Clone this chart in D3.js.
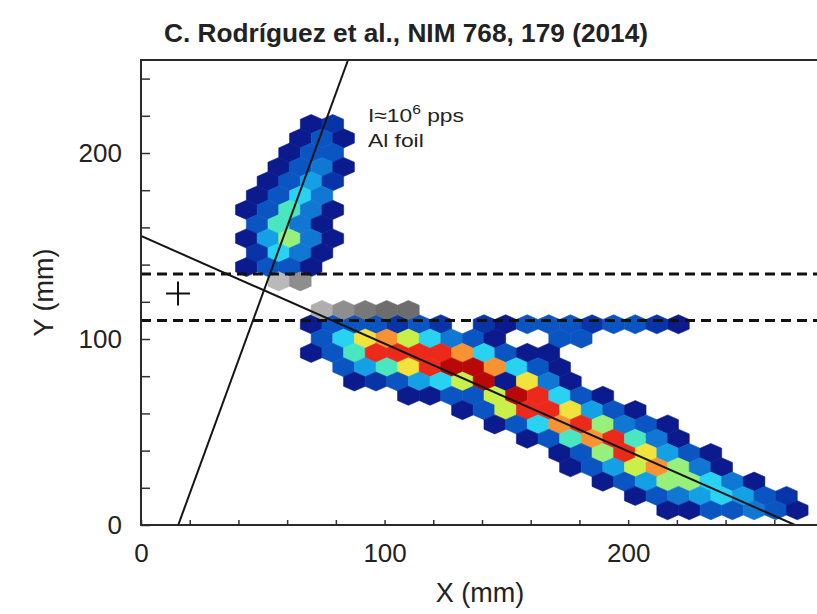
<!DOCTYPE html>
<html>
<head>
<meta charset="utf-8">
<script src="https://cdn.jsdelivr.net/npm/d3@7"></script>
<style>
  body { margin: 0; background: #fff; }
  text { font-family: "Liberation Sans", Arial, Helvetica, sans-serif; fill: #222; }
</style>
</head>
<body>
<svg id="chart" width="817" height="614"></svg>
<script>
// ---- hexbin histogram of reconstructed hit positions ----
// each bin row: row index counted from the bottom row, first column, counts
const binRow = [27, 26, 25, 24, 23, 22, 21, 20, 19, 18, 17,
                13, 12, 11, 10, 9, 8, 7, 6, 5, 4, 3, 2, 1, 0];
const binFirstCol = [-1, -1, -2, -2, -3, -3, -4, -3, -4, -3, -4,
                     -1, 0, -1, 1, 1, 4, 6, 8, 9, 11, 11, 13, 14, 16];
const binCounts = [
  [1, 2],
  [1, 3, 1],
  [1, 3, 3],
  [1, 3, 4, 1],
  [1, 3, 5, 2],
  [1, 3, 6, 4],
  [1, 3, 7, 4, 1],
  [3, 7, 4, 1],
  [1, 5, 8, 4, 1],
  [2, 6, 4, 1],
  [1, 3, 3, 1],
  [1, 3, 3, 3, 2, 3, 2, 0, 2, 1, 3, 3, 3, 2, 3, 3, 2, 1],
  [3, 6, 10, 11, 9, 6, 4, 3, 1, 0, 0, 3, 3],
  [1, 3, 7, 12, 12, 12, 12, 11, 6, 3, 1, 1],
  [3, 5, 7, 10, 12, 13, 13, 11, 6, 3, 1],
  [1, 2, 3, 5, 6, 9, 13, 1, 10, 4, 1],
  [1, 1, 3, 3, 9, 13, 12, 6, 3, 1],
  [1, 3, 9, 12, 12, 10, 5, 3, 1],
  [1, 3, 6, 11, 12, 8, 4, 3, 1],
  [1, 3, 7, 11, 12, 7, 4, 1],
  [1, 3, 8, 12, 10, 5, 3, 1],
  [1, 3, 5, 9, 11, 8, 4, 1],
  [1, 3, 5, 8, 8, 6, 4, 1],
  [1, 3, 4, 5, 6, 5, 3, 2],
  [1, 1, 3, 3, 4, 3, 1]
];
// bins rejected by the vertical window cut (grey)
const greyRow = [16, 14];
const greyFirstCol = [-2, 0];
const greyCounts = [[2, 6], [3, 6, 8, 9, 9]];

// window cut, fitted tracks and beam spot (mm)
const cutY = [135, 110];
const trackA = [[0, 155.4], [268.5, 0]];
const trackB = [[15.3, 0], [85, 250]];
const beamSpot = [15.2, 124.4];

// axes
const xTickValues = [0, 20, 40, 60, 80, 100, 120, 140, 160, 180, 200, 220, 240, 260];
const yTickValues = [0, 20, 40, 60, 80, 100, 120, 140, 160, 180, 200, 220, 240];
const xTickLabels = [0, 100, 200];
const yTickLabels = [0, 100, 200];

// hexagonal grid geometry (mm)
const HEX_W = 8.87;     // column pitch
const HEX_H = 7.69;     // row pitch
const HEX_X0 = 74.3;    // centre of column 0 on even rows
const HEX_Y0 = 7.94;    // centre of row 0

const svg = d3.select("#chart");
const x = d3.scaleLinear().domain([0, 280]).range([141, 823]);
const y = d3.scaleLinear().domain([0, 250]).range([525, 60]);

const jet = ["#0b1a8c", "#0834a8", "#0a55c2", "#1077d2", "#14a0e4", "#28d2f0",
             "#4ae6c0", "#96f07a", "#c8f048", "#f2e23c", "#f89232", "#ec2a1c", "#b80808"];
const color = d3.scaleLinear().domain(d3.range(1, 14)).range(jet).clamp(true);
const grey = d3.scaleLinear().domain([1, 10]).range(["#c4c4c4", "#626262"]).clamp(true);

function binsOf(rows, firsts, counts) {
  const out = [];
  rows.forEach((r, i) => {
    counts[i].forEach((c, k) => {
      if (c > 0) out.push({ row: r, col: firsts[i] + k, count: c });
    });
  });
  return out;
}
function centre(b) {
  return [HEX_X0 + HEX_W * (b.col + (b.row % 2 ? 0.5 : 0)), HEX_Y0 + HEX_H * b.row];
}
function hexPath(b) {
  const [cx, cy] = centre(b);
  const hw = HEX_W / 2, t = HEX_H * 2 / 3, s = HEX_H / 3;
  const pts = [[cx, cy + t], [cx + hw, cy + s], [cx + hw, cy - s],
               [cx, cy - t], [cx - hw, cy - s], [cx - hw, cy + s]];
  return "M" + pts.map(p => x(p[0]) + "," + y(p[1])).join("L") + "Z";
}

svg.append("clipPath").attr("id", "plot-clip")
  .append("rect").attr("x", x(0)).attr("y", y(250))
  .attr("width", x(280) - x(0)).attr("height", y(0) - y(250));

const plot = svg.append("g").attr("clip-path", "url(#plot-clip)");

plot.append("g").selectAll("path")
  .data(binsOf(binRow, binFirstCol, binCounts))
  .join("path")
  .attr("d", hexPath)
  .attr("fill", d => color(d.count))
  .attr("stroke", d => color(d.count))
  .attr("stroke-width", 0.6);

plot.append("g").selectAll("path")
  .data(binsOf(greyRow, greyFirstCol, greyCounts))
  .join("path")
  .attr("d", hexPath)
  .attr("fill", d => grey(d.count))
  .attr("stroke", d => grey(d.count))
  .attr("stroke-width", 0.6);

// window cut
plot.append("g").selectAll("line")
  .data(cutY)
  .join("line")
  .attr("x1", x(0)).attr("x2", x(280))
  .attr("y1", d => y(d)).attr("y2", d => y(d))
  .attr("stroke", "#111").attr("stroke-width", 3)
  .attr("stroke-dasharray", "10,6");

// fitted tracks
const trackLine = d3.line().x(d => x(d[0])).y(d => y(d[1]));
plot.append("g").selectAll("path")
  .data([trackA, trackB])
  .join("path")
  .attr("d", trackLine)
  .attr("fill", "none")
  .attr("stroke", "#151515").attr("stroke-width", 2);

// beam spot marker
const bx = x(beamSpot[0]), by = y(beamSpot[1]);
plot.append("path")
  .attr("d", `M${bx - 12},${by}H${bx + 12}M${bx},${by - 12}V${by + 12}`)
  .attr("stroke", "#111").attr("stroke-width", 2).attr("fill", "none");

// annotation (wide lettering)
const note = svg.append("g").attr("transform", "translate(368,0) scale(1.2,1)");
const t1 = note.append("text").attr("x", 0).attr("y", 122).attr("font-size", 19);
t1.append("tspan").text("I≈10");
t1.append("tspan").attr("font-size", 13).attr("dy", -8).text("6");
t1.append("tspan").attr("dy", 8).text(" pps");
note.append("text").attr("x", 0).attr("y", 147).attr("font-size", 19).text("Al foil");

// axes: inward ticks every 20 mm, labels every 100 mm
const xAxis = d3.axisBottom(x).tickValues(xTickValues).tickSize(-5).tickPadding(19)
  .tickFormat(d => xTickLabels.includes(d) ? d : "");
const gx = svg.append("g").attr("transform", `translate(0,${y(0)})`).call(xAxis);
gx.select(".domain").remove();
gx.selectAll(".tick line").attr("stroke", "#333").attr("stroke-width", 1.5);
gx.selectAll(".tick text").attr("font-size", 26).attr("fill", "#222")
  .attr("font-family", "'Liberation Sans', Arial, sans-serif");

const yAxis = d3.axisLeft(y).tickValues(yTickValues).tickSize(-9).tickPadding(19)
  .tickFormat(d => yTickLabels.includes(d) ? d : "");
const gy = svg.append("g").attr("transform", `translate(${x(0)},0)`).call(yAxis);
gy.select(".domain").remove();
gy.selectAll(".tick line").attr("stroke", "#333").attr("stroke-width", 1.5);
gy.selectAll(".tick text").attr("font-size", 26).attr("fill", "#222")
  .attr("font-family", "'Liberation Sans', Arial, sans-serif");

// frame
svg.append("path")
  .attr("d", `M${x(280)},${y(250)}H${x(0)}V${y(0)}H${x(280)}`)
  .attr("fill", "none").attr("stroke", "#2a2a2a").attr("stroke-width", 2);

// axis titles
svg.append("text").attr("x", 480).attr("y", 602).attr("text-anchor", "middle")
  .attr("font-size", 27).text("X (mm)");
svg.append("text").attr("transform", `translate(53,${(y(0) + y(250)) / 2}) rotate(-90)`)
  .attr("text-anchor", "middle").attr("font-size", 27).text("Y (mm)");

// title
svg.append("text").attr("x", 406).attr("y", 42).attr("text-anchor", "middle")
  .attr("font-size", 25).attr("font-weight", "bold")
  .attr("textLength", 484).attr("lengthAdjust", "spacingAndGlyphs")
  .text("C. Rodríguez et al., NIM 768, 179 (2014)");
</script>
</body>
</html>
